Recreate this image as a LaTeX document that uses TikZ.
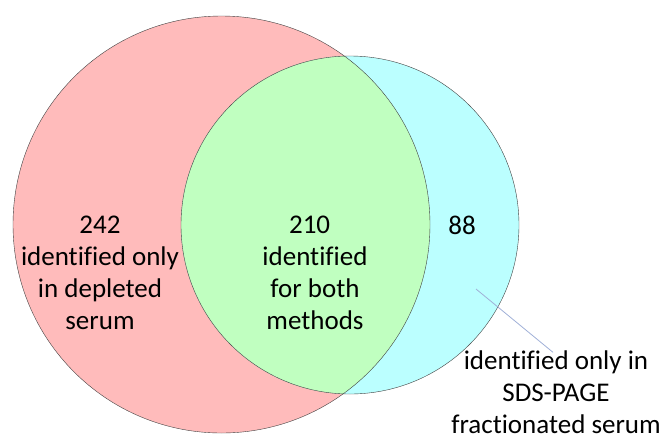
\documentclass[tikz,border=0pt]{standalone}
\usepackage{fontspec}
\setmainfont{Carlito}[Ligatures=NoCommon]
\definecolor{setpink}{RGB}{255,187,187}
\definecolor{setcyan}{RGB}{187,255,255}
\definecolor{setgreen}{RGB}{192,255,192}
\definecolor{leadblue}{RGB}{160,176,215}
\begin{document}
\begin{tikzpicture}[x=1pt,y=-1pt,
  setlabel/.style={align=center,inner sep=0pt,font=\fontsize{27}{32}\selectfont}]
\useasboundingbox (0,0) rectangle (664,440);
\fill[setpink] (221.5,224.5) circle[radius=208.5];
\fill[setcyan] (350,225) circle[radius=169];
\begin{scope}
\clip (221.5,224.5) circle[radius=208.5];
\fill[setgreen] (350,225) circle[radius=169];
\end{scope}
\draw[black!75] (221.5,224.5) circle[radius=208.5];
\draw[black!75] (350,225) circle[radius=169];
\node[setlabel] (depleted) at (100,273) {242\\identified only\\in depleted\\serum};
\node[setlabel] (both) at (315,273) {210\hspace*{0.4em}\\identified\\for both\\methods};
\node[setlabel] (sdsonly) at (462,225) {88};
\node[setlabel] (sdslabel) at (556,392) {identified only in\\SDS-PAGE\\fractionated serum};
\coordinate (leadstart) at (476,289);
\draw[leadblue,line width=0.8pt] (leadstart) -- ([xshift=-3pt,yshift=-2pt]sdslabel.north);
\end{tikzpicture}
\end{document}
